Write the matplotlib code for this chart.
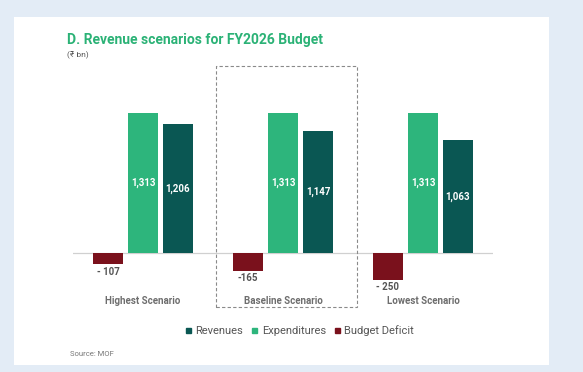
import numpy as np
import matplotlib
matplotlib.use("Agg")
import matplotlib.pyplot as plt
from matplotlib.patches import Rectangle, Patch

plt.rcParams['font.family'] = ['Roboto', 'DejaVu Sans']

scenarios = ['Highest Scenario', 'Baseline Scenario', 'Lowest Scenario']
revenues = [1206, 1147, 1063]
expenditures = [1313, 1313, 1313]
deficit = [-107, -165, -250]
deficit_labels = ['- 107', '-165', '- 250']

c_rev = '#0a5753'
c_exp = '#2db57c'
c_def = '#7a111c'
green_title = '#2bb276'

W, H = 583, 372
fig = plt.figure(figsize=(W / 100, H / 100), dpi=100)
fig.patch.set_facecolor('#e3ecf6')

# white card
fig.patches.append(Rectangle((14 / W, 1 - 365 / H), (549 - 14) / W, (365 - 17) / H,
                             transform=fig.transFigure, facecolor='white',
                             edgecolor='none', zorder=-1))

# axes placed in pixels: zero line spans x 73..493, top 60, bottom 290
ax = fig.add_axes([73 / W, 1 - 290 / H, 420 / W, 230 / H])
ax.set_zorder(2)
ax.set_facecolor('none')
scale = 140 / 1313  # px per unit
ax.set_xlim(-0.5, 2.5)
ax.set_ylim(-(290 - 253) / scale, (253 - 60) / scale)

x = np.arange(len(scenarios))
bw = 30 / 140
off = 35 / 140

b_def = ax.bar(x - off, deficit, bw, color=c_def, zorder=2)
b_exp = ax.bar(x, expenditures, bw, color=c_exp, zorder=2)
b_rev = ax.bar(x + off, revenues, bw, color=c_rev, zorder=2)

ax.axhline(0, color='#d0d0d0', lw=0.9, zorder=1)

for rect, v in zip(b_exp, expenditures):
    ax.text(rect.get_x() + rect.get_width() / 2, v / 2, f'{v:,}', ha='center',
            va='center', color='white', fontsize=7, fontweight='bold')
for rect, v in zip(b_rev, revenues):
    ax.text(rect.get_x() + rect.get_width() / 2, v / 2, f'{v:,}', ha='center',
            va='center', color='white', fontsize=7, fontweight='bold')
for rect, v, lab in zip(b_def, deficit, deficit_labels):
    ax.annotate(lab, (rect.get_x() + rect.get_width() / 2, v), xytext=(0, -2),
                textcoords='offset points', ha='center', va='top',
                color='#555555', fontsize=7, fontweight='bold')

# dashed box around baseline
ybot = -(307 - 253) / scale
ytop = (253 - 66) / scale
ax.add_patch(Rectangle((1 - 0.479, ybot), 1.008, ytop - ybot, fill=False,
                       edgecolor='#8a8a8a', lw=0.8, ls=(0, (3, 2)),
                       clip_on=False, zorder=3))

ax.set_xticks(x, scenarios)
ax.tick_params(axis='x', length=0, pad=4, labelsize=7, labelcolor='#6e6e6e')
for t in ax.get_xticklabels():
    t.set_fontweight('bold')
ax.set_yticks([])
for s in ax.spines.values():
    s.set_visible(False)

fig.text(67 / W, 1 - 40 / H, 'D. Revenue scenarios for FY2026 Budget', ha='left',
         va='center', color=green_title, fontsize=10, fontweight='bold')
fig.text(67 / W, 1 - 55 / H, '(₹ bn)', ha='left', va='center', color='#555555',
         fontsize=6)
fig.text(70 / W, 1 - 354 / H, 'Source: MOF', ha='left', va='center',
         color='#777777', fontsize=5.5)

handles = [Patch(color=c_rev), Patch(color=c_exp), Patch(color=c_def)]
fig.legend(handles, ['Revenues', 'Expenditures', 'Budget Deficit'], loc='center',
           bbox_to_anchor=(300 / W, 1 - 331 / H), ncol=3, frameon=False,
           fontsize=8, labelcolor='#555555', handlelength=0.45, handleheight=0.45,
           handletextpad=0.4, columnspacing=0.8)

fig.savefig('out.png', dpi=100, facecolor=fig.get_facecolor())
